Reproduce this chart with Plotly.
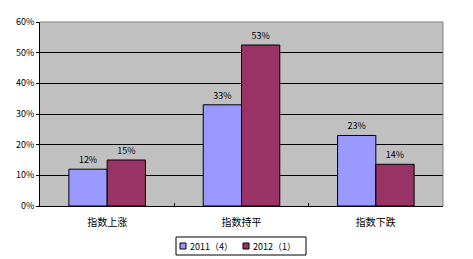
import plotly.graph_objects as go

categories = ["指数上涨", "指数持平", "指数下跌"]
series_names = ["2011（4）", "2012（1）"]
values_2011 = [0.12, 0.33, 0.23]
values_2012 = [0.15, 0.525, 0.136]
labels_2011 = ["12%", "33%", "23%"]
labels_2012 = ["15%", "53%", "14%"]
tick_vals = [0, 0.1, 0.2, 0.3, 0.4, 0.5, 0.6]
tick_text = ["0%", "10%", "20%", "30%", "40%", "50%", "60%"]
colors = ["#9999FF", "#993366"]

font_family = "Noto Sans CJK SC, DejaVu Sans, sans-serif"

W, H = 473, 259
L, R, T, B = 40, 30, 22, 53
pw, ph = W - L - R, H - T - B


def px(x):
    return (x - L) / pw


def py(y):
    return (H - B - y) / ph


fig = go.Figure()
for vals, labs, col in [(values_2011, labels_2011, colors[0]), (values_2012, labels_2012, colors[1])]:
    fig.add_trace(go.Bar(
        x=categories, y=vals, showlegend=False,
        marker=dict(color=col, line=dict(color="black", width=1)),
        text=labs, textposition="outside", cliponaxis=False,
        textfont=dict(size=9, color="black", family=font_family),
    ))

shapes = [
    dict(type="line", xref="paper", yref="paper", x0=0, x1=1, y0=1, y1=1,
         line=dict(color="#808080", width=1)),
    dict(type="line", xref="paper", yref="paper", x0=1, x1=1, y0=0, y1=1,
         line=dict(color="#808080", width=1)),
    # legend box
    dict(type="rect", xref="paper", yref="paper", x0=px(176), x1=px(306), y0=py(255), y1=py(237),
         line=dict(color="black", width=1), fillcolor="white", layer="above"),
]
annotations = []
legend_x = [180, 243]
for name, col, lx in zip(series_names, colors, legend_x):
    shapes.append(dict(type="rect", xref="paper", yref="paper",
                       x0=px(lx), x1=px(lx + 6), y0=py(249), y1=py(243),
                       line=dict(color="black", width=1), fillcolor=col, layer="above"))
    annotations.append(dict(xref="paper", yref="paper", x=px(lx + 8), y=py(246),
                            xanchor="left", yanchor="middle", showarrow=False,
                            text=name, font=dict(size=9, family=font_family, color="black")))

fig.update_layout(
    width=W, height=H,
    margin=dict(l=L, r=R, t=T, b=B, autoexpand=False),
    paper_bgcolor="white",
    plot_bgcolor="#C0C0C0",
    barmode="group",
    bargap=0.43, bargroupgap=0,
    font=dict(family=font_family, size=9, color="black"),
    showlegend=False,
    xaxis=dict(
        showgrid=False, showline=True, linecolor="black", linewidth=1,
        mirror=False, ticks="inside", tickson="boundaries", ticklen=3,
        tickcolor="black", tickfont=dict(size=10), ticklabelstandoff=7,
    ),
    yaxis=dict(
        range=[0, 0.6], tickvals=tick_vals, ticktext=tick_text,
        showgrid=True, gridcolor="black", gridwidth=1,
        showline=True, linecolor="black", linewidth=1,
        ticks="outside", ticklen=3, tickcolor="black",
        tickfont=dict(size=9), zeroline=False,
    ),
    shapes=shapes,
    annotations=annotations,
)

fig.write_html("out.html")
